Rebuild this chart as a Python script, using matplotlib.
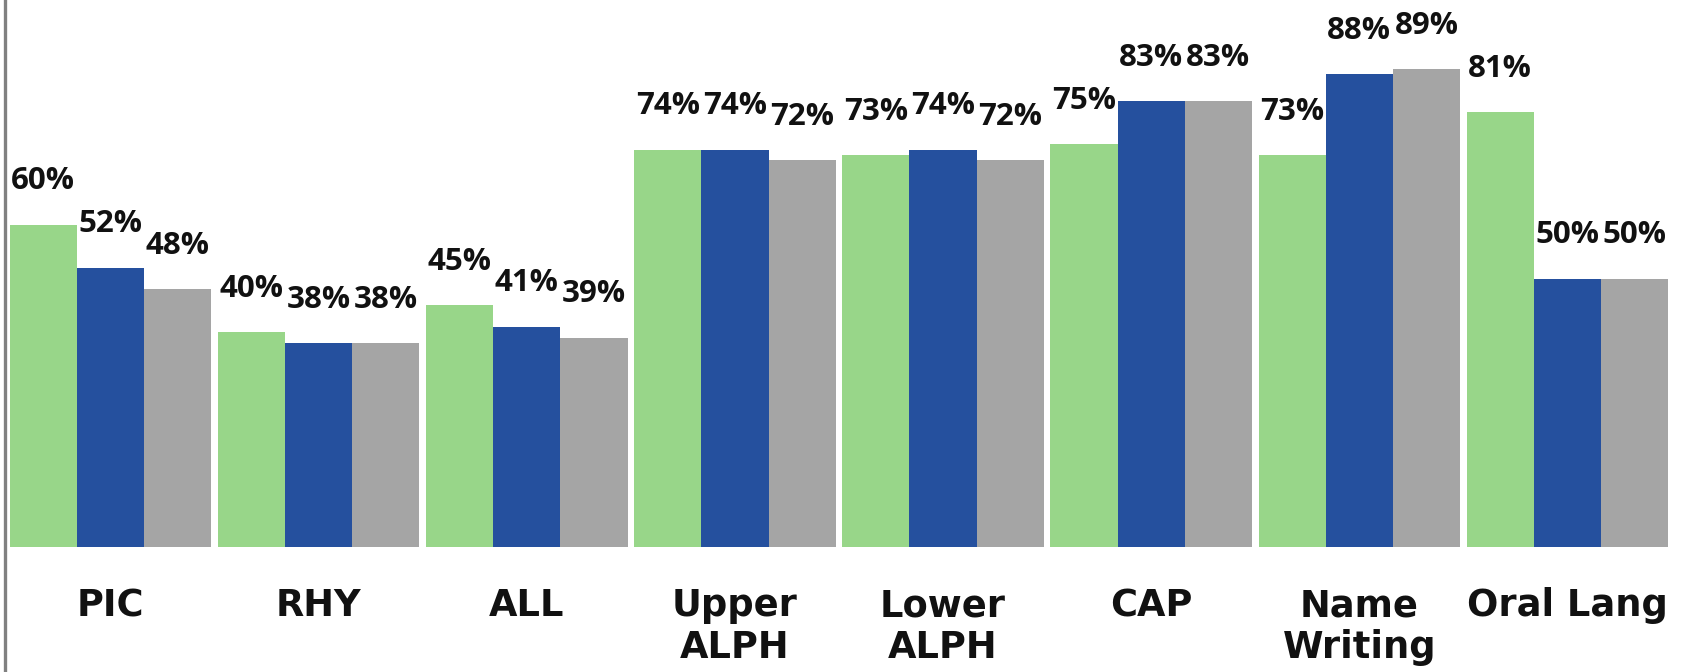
import matplotlib
matplotlib.use("Agg")
import matplotlib.pyplot as plt
import numpy as np
from matplotlib.lines import Line2D

categories = ["PIC", "RHY", "ALL", "Upper\nALPH", "Lower\nALPH", "CAP", "Name\nWriting", "Oral Lang"]
series_green = [60, 40, 45, 74, 73, 75, 73, 81]
series_blue = [52, 38, 41, 74, 74, 83, 88, 50]
series_gray = [48, 38, 39, 72, 72, 83, 89, 50]

colors = ["#98D689", "#25509E", "#A5A5A5"]

W, H = 1682, 672
fig = plt.figure(figsize=(W / 100, H / 100), dpi=100)
left_px, right_px = 6.5, 1671.5
base_px, top_px = 547, 10
ax = fig.add_axes([left_px / W, (H - base_px) / H, (right_px - left_px) / W, (base_px - top_px) / H])
ax.set_xlim(-0.5, len(categories) - 0.5)
ax.set_ylim(0, 100)
ax.axis("off")

x = np.arange(len(categories))
bw = 67 / 207.5
for k, vals in enumerate([series_green, series_blue, series_gray]):
    xs = x + (k - 1) * bw
    ax.bar(xs, vals, width=bw, color=colors[k], linewidth=0)
    for xi, v in zip(xs, vals):
        ax.annotate(f"{v}%", (xi, v), xytext=(0, 25.5), textcoords="offset points",
                    ha="center", va="baseline", fontsize=22.5, fontweight="bold",
                    family="Open Sans", color="#111111", annotation_clip=False)

for xi, c in zip(x, categories):
    ax.annotate(c, (xi, 0), xytext=(0, -29), textcoords="offset points",
                ha="center", va="top", fontsize=26.5, fontweight="bold",
                family="DejaVu Sans", color="#111111", linespacing=1.15,
                annotation_clip=False)

fig.add_artist(Line2D([5 / W, 5 / W], [0, 1], transform=fig.transFigure,
                      color="#808080", linewidth=2.4))

fig.savefig("out.png", dpi=100, facecolor="white")
